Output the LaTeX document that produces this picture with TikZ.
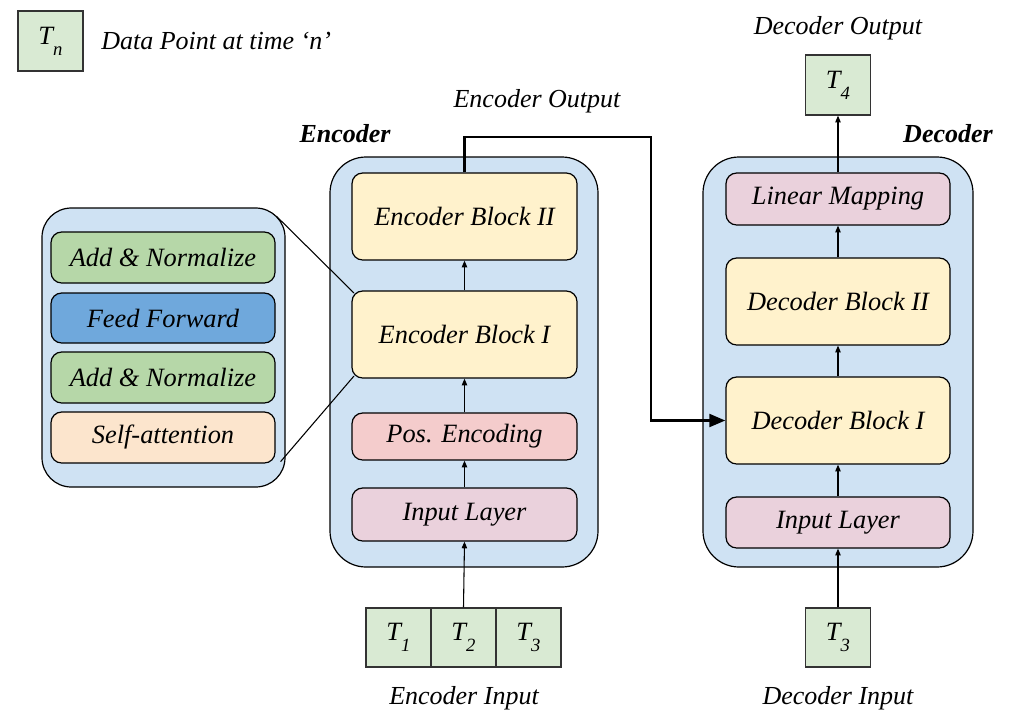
\documentclass[tikz,border=0pt]{standalone}
\usepackage{fontspec}
\setmainfont{Liberation Serif}[ItalicFont={Liberation Serif Italic},BoldFont={Liberation Serif Bold},BoldItalicFont={Liberation Serif Bold Italic}]
\usetikzlibrary{arrows.meta,calc}
\newlength{\upx}\setlength{\upx}{0.75pt}
\definecolor{cont}{HTML}{CFE2F3}
\definecolor{yel}{HTML}{FFF2CC}
\definecolor{pnk}{HTML}{EAD1DC}
\definecolor{rosy}{HTML}{F4CCCC}
\definecolor{grn}{HTML}{D9EAD3}
\definecolor{grn2}{HTML}{B6D7A8}
\definecolor{blu}{HTML}{6FA8DC}
\definecolor{pch}{HTML}{FCE5CD}
\newcommand{\Tsb}[1]{T\raisebox{-0.42em}{\fontsize{14pt}{14pt}\selectfont #1}}
\begin{document}
\begin{tikzpicture}[x=0.75pt,y=-0.75pt,
  lbl/.style={font=\fontsize{19.8pt}{22pt}\selectfont\itshape},
  captext/.style={font=\fontsize{19.5pt}{21pt}\selectfont\itshape},
  ttl/.style={font=\fontsize{19.5pt}{21pt}\selectfont\bfseries\itshape},
  container/.style={draw=black,fill=cont,line width=0.9pt,rounded corners=27pt,inner sep=0pt},
  blk/.style={draw=black,line width=0.9pt,rounded corners=8pt,inner sep=0pt,lbl},
  tbox/.style={draw=black!80,fill=grn,line width=0.9pt,inner sep=0pt,minimum width=65\upx,minimum height=59\upx,lbl},
  arr/.style={line width=0.8pt,-{Triangle[length=5pt,width=4pt]}},
  bigarr/.style={line width=2.2pt,-{Triangle[length=12pt,width=9.5pt]}},
  zline/.style={line width=0.8pt}]
\useasboundingbox (0,0) rectangle (1015,726);

% legend
\node[tbox,minimum height=60\upx] (leg) at (50.5,41) {\Tsb{n}};
\node[captext,anchor=west,inner sep=0pt] (legt) at (101,41) {Data Point at time ‘n’};

% encoder
\node[container,minimum width=268\upx,minimum height=410\upx] (enc) at (464,362) {};
\node[blk,fill=yel,minimum width=225\upx,minimum height=87\upx] (eb2) at (464.5,216.5) {Encoder Block II};
\node[blk,fill=yel,minimum width=225\upx,minimum height=87\upx] (eb1) at (464.5,334.5) {Encoder Block I};
\node[blk,fill=rosy,minimum width=225\upx,minimum height=47\upx] (pe) at (464.5,436.5) {Pos. Encoding};
\node[blk,fill=pnk,minimum width=225\upx,minimum height=53\upx] (il) at (464.5,514.5) {Input Layer};
\node[ttl] (enct) at (345,134) {Encoder};
\node[captext] (eot) at (537,101) {Encoder Output};

\node[tbox] (t1) at (398.5,637.5) {\Tsb{1}};
\node[tbox] (t2) at (463.5,637.5) {\Tsb{2}};
\node[tbox] (t3) at (528.5,637.5) {\Tsb{3}};
\node[captext] (eit) at (464,698) {Encoder Input};

\draw[arr] (t2.north) -- (il.south);
\draw[arr] (il.north) -- (pe.south);
\draw[arr] (pe.north) -- (eb1.south);
\draw[arr] (eb1.north) -- (eb2.south);

% zoom panel
\node[container,rounded corners=22pt,minimum width=243\upx,minimum height=279\upx] (panel) at (163.5,347.5) {};
\node[blk,fill=grn2,minimum width=224\upx,minimum height=51\upx] (an1) at (163,257.5) {Add \& Normalize};
\node[blk,fill=blu,minimum width=224\upx,minimum height=50\upx] (ff) at (163,318) {Feed Forward};
\node[blk,fill=grn2,minimum width=224\upx,minimum height=51\upx] (an2) at (163,377.5) {Add \& Normalize};
\node[blk,fill=pch,minimum width=224\upx,minimum height=51\upx] (sa) at (163,437.5) {Self-attention};
\draw[zline] ($(panel.north east)+(-9,9)$) -- ($(eb1.north west)+(2.5,2.5)$);
\draw[zline] ($(panel.south east)+(-5,-26)$) -- ($(eb1.south west)+(2.5,-2.5)$);

% decoder
\node[container,minimum width=270\upx,minimum height=410\upx] (dec) at (838,362) {};
\node[blk,fill=pnk,minimum width=224\upx,minimum height=52\upx] (lm) at (838,199) {Linear Mapping};
\node[blk,fill=yel,minimum width=224\upx,minimum height=87\upx] (db2) at (838,301.5) {Decoder Block II};
\node[blk,fill=yel,minimum width=224\upx,minimum height=87\upx] (db1) at (838,420.5) {Decoder Block I};
\node[blk,fill=pnk,minimum width=224\upx,minimum height=51\upx] (dil) at (838,522.5) {Input Layer};
\node[ttl] (dect) at (948,134) {Decoder};
\node[tbox,minimum height=60\upx] (t4) at (838,85) {\Tsb{4}};
\node[captext] (dot) at (838,28) {Decoder Output};
\node[tbox] (dt3) at (838,637.5) {\Tsb{3}};
\node[captext] (dit) at (838,698) {Decoder Input};

\draw[arr] (dt3.north) -- (dil.south);
\draw[arr] (dil.north) -- (db1.south);
\draw[arr] (db1.north) -- (db2.south);
\draw[arr] (db2.north) -- (lm.south);
\draw[arr] (lm.north) -- (t4.south);

% encoder output connector
\coordinate (eo) at (651,137);
\draw[bigarr] (eb2.north) |- (eo) |- (db1.west);
\end{tikzpicture}
\end{document}
